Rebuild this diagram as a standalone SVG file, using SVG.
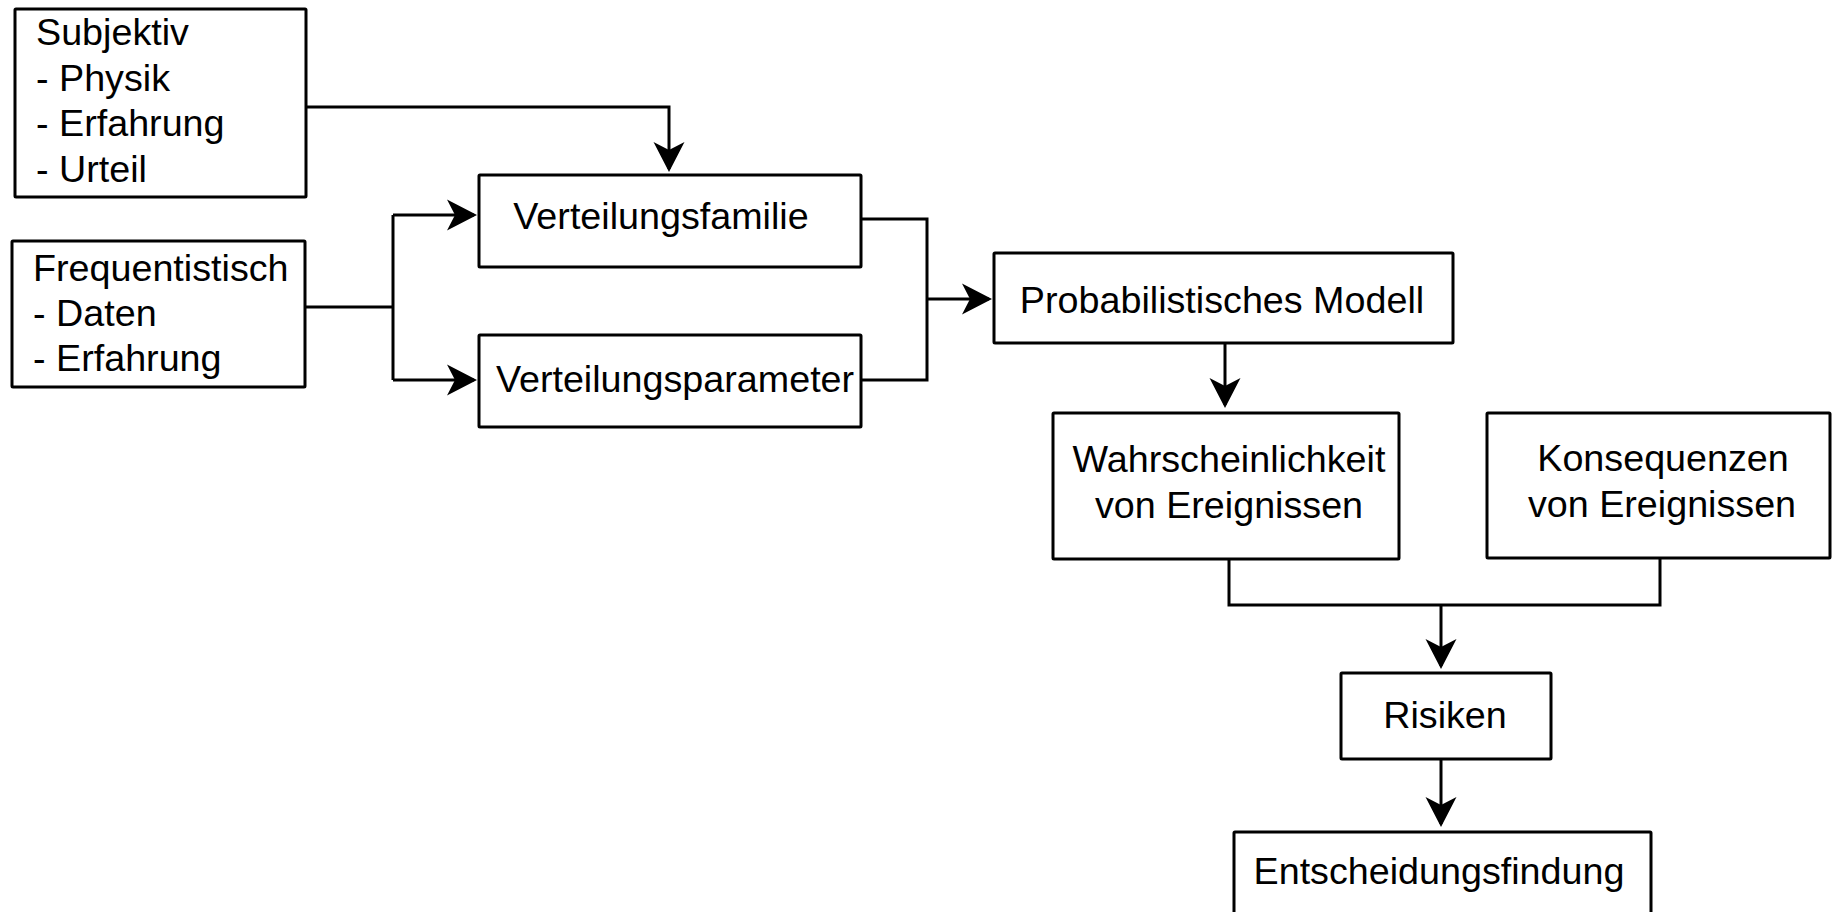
<svg xmlns="http://www.w3.org/2000/svg" width="1832" height="912" viewBox="0 0 1832 912">
<style>
.box{fill:#fff;stroke:#000;stroke-width:3;stroke-linejoin:round}
.t{font-family:"Liberation Sans",Arial,sans-serif;font-size:37.7px;fill:#000}
.c{text-anchor:middle}
.ln{fill:none;stroke:#000;stroke-width:3;stroke-linejoin:miter}
</style>
<defs>
<marker id="arr" markerUnits="userSpaceOnUse" viewBox="-30 -16 34 32" markerWidth="34" markerHeight="32" refX="0" refY="0" orient="auto">
<path d="M3,0 L-27,-15.5 L-19,0 L-27,15.5 Z" fill="#000"/>
</marker>
</defs>
<rect width="1832" height="912" fill="#fff"/>
<g id="connectors">
<path class="ln" d="M306,107 H669 V169" marker-end="url(#arr)"/>
<path class="ln" d="M305,307 H393"/>
<path class="ln" d="M393,215 V380"/>
<path class="ln" d="M393,215 H474" marker-end="url(#arr)"/>
<path class="ln" d="M393,380 H474" marker-end="url(#arr)"/>
<path class="ln" d="M861,219 H927 V380 H861"/>
<path class="ln" d="M927,299 H989" marker-end="url(#arr)"/>
<path class="ln" d="M1225,343 V405" marker-end="url(#arr)"/>
<path class="ln" d="M1229,559 V605 H1660 V558"/>
<path class="ln" d="M1441,605 V666" marker-end="url(#arr)"/>
<path class="ln" d="M1441,759 V824" marker-end="url(#arr)"/>
</g>
<g id="subjektiv">
<rect class="box" x="15" y="9" width="291" height="188" rx="1"/>
<text class="t" x="36" y="45">Subjektiv</text>
<text class="t" x="36" y="91">- Physik</text>
<text class="t" x="36" y="136">- Erfahrung</text>
<text class="t" x="36" y="182">- Urteil</text>
</g>
<g id="frequentistisch">
<rect class="box" x="12" y="241" width="293" height="146" rx="1"/>
<text class="t" x="33" y="281">Frequentistisch</text>
<text class="t" x="33" y="326">- Daten</text>
<text class="t" x="33" y="371">- Erfahrung</text>
</g>
<g id="verteilungsfamilie">
<rect class="box" x="479" y="175" width="382" height="92" rx="1"/>
<text class="t c" x="661" y="229">Verteilungsfamilie</text>
</g>
<g id="verteilungsparameter">
<rect class="box" x="479" y="335" width="382" height="92" rx="1"/>
<text class="t c" x="675" y="392">Verteilungsparameter</text>
</g>
<g id="modell">
<rect class="box" x="994" y="253" width="459" height="90" rx="1"/>
<text class="t c" x="1222" y="313">Probabilistisches Modell</text>
</g>
<g id="wahrscheinlichkeit">
<rect class="box" x="1053" y="413" width="346" height="146" rx="1"/>
<text class="t c" x="1229" y="472">Wahrscheinlichkeit</text>
<text class="t c" x="1229" y="518">von Ereignissen</text>
</g>
<g id="konsequenzen">
<rect class="box" x="1487" y="413" width="343" height="145" rx="1"/>
<text class="t c" x="1663" y="471">Konsequenzen</text>
<text class="t c" x="1662" y="517">von Ereignissen</text>
</g>
<g id="risiken">
<rect class="box" x="1341" y="673" width="210" height="86" rx="1"/>
<text class="t c" x="1445" y="728">Risiken</text>
</g>
<g id="entscheidungsfindung">
<rect class="box" x="1234" y="832" width="417" height="100" rx="1"/>
<text class="t c" x="1439" y="884">Entscheidungsfindung</text>
</g>
</svg>
